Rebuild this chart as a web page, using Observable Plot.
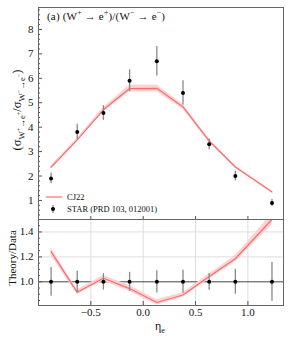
<!DOCTYPE html>
<html>
<head>
<meta charset="utf-8">
<script src="https://cdn.jsdelivr.net/npm/d3@7"></script>
<script src="https://cdn.jsdelivr.net/npm/@observablehq/plot@0.6"></script>
<style>
  html, body { margin: 0; padding: 0; background: white; }
  #wrap { position: relative; width: 291px; height: 339px; font-family: 'Liberation Serif', 'DejaVu Serif', serif; color: #111; }
  #wrap > svg { display: block; }
  #wrap svg text { font-family: 'Liberation Serif', 'DejaVu Serif', serif; }
  .lbl { position: absolute; white-space: nowrap; line-height: 1; }
  .rot { transform: translate(-50%, -50%) rotate(-90deg); }
  sub, sup { font-size: 70%; line-height: 0; }
</style>
</head>
<body>
<div id="wrap"></div>
<script>
// ---- data ----
const eta      = [-0.88, -0.63, -0.38, -0.13, 0.13, 0.38, 0.63, 0.88, 1.23];
const starVal  = [1.9, 3.8, 4.58, 5.9, 6.7, 5.4, 3.3, 2.0, 0.9];
const starErr  = [0.22, 0.32, 0.30, 0.45, 0.60, 0.50, 0.22, 0.20, 0.14];
const cj22Val  = [2.36, 3.48, 4.71, 5.58, 5.59, 4.83, 3.44, 2.37, 1.35];
const cj22Err  = [0.06, 0.07, 0.10, 0.14, 0.14, 0.10, 0.07, 0.05, 0.04];
const xTicks   = [-0.5, 0, 0.5, 1.0];
const yTicksTop = [1, 2, 3, 4, 5, 6, 7, 8];
const yTicksBot = [1.0, 1.2, 1.4];

const star = eta.map((x, i) => ({x, v: starVal[i], e: starErr[i], r: 1, re: starErr[i] / starVal[i]}));
const cj22 = eta.map((x, i) => ({x, v: cj22Val[i], e: cj22Err[i], r: cj22Val[i] / starVal[i], re: cj22Err[i] / starVal[i]}));

const W = 291, ML = 38, MR = 8;
const plotW = W - ML - MR;
const font = {fontFamily: "'Liberation Serif', 'DejaVu Serif', serif", fontSize: "11px", background: "white", color: "#111", overflow: "visible"};
const lineColor = "#ff6b6b", bandColor = "#fcd3d3", frameColor = "#666";

// top panel
const H1 = 219, MT1 = 7, MB1 = 0, plotH1 = H1 - MT1 - MB1;
const minorTop = d3.range(0.4, 8.9, 0.2).filter(v => Math.abs(v - Math.round(v)) > 1e-6);
const topPanel = Plot.plot({
  width: W, height: H1, marginLeft: ML, marginRight: MR, marginTop: MT1, marginBottom: MB1,
  x: {domain: [-1.0, 1.34], axis: null},
  y: {domain: [0.22, 8.9], ticks: yTicksTop, tickSize: 0, tickPadding: 5, label: null, tickFormat: d => String(d)},
  style: font,
  marks: [
    Plot.areaY(cj22, {x: "x", y1: d => d.v - d.e, y2: d => d.v + d.e, fill: bandColor}),
    Plot.lineY(cj22, {x: "x", y: "v", stroke: lineColor, strokeWidth: 1.2}),
    Plot.ruleX(star, {x: "x", y1: d => d.v - d.e, y2: d => d.v + d.e, stroke: "#888", strokeWidth: 1.3}),
    Plot.dot(star, {x: "x", y: "v", r: 2, fill: "#000"}),
    Plot.tickY(yTicksTop, {y: d => d, insetRight: plotW - 4, stroke: "#555"}),
    Plot.tickY(minorTop, {y: d => d, insetRight: plotW - 2, stroke: "#555"}),
    Plot.tickX(xTicks, {x: d => d, insetTop: plotH1 - 3, stroke: "#555"}),
    Plot.frame({stroke: frameColor})
  ]
});

// bottom panel
const H2 = 120, MT2 = 0, MB2 = 34, plotH2 = H2 - MT2 - MB2;
const minorBot = d3.range(0.85, 1.5, 0.05).filter(v => Math.abs(v * 5 - Math.round(v * 5)) > 1e-6);
const botPanel = Plot.plot({
  width: W, height: H2, marginLeft: ML, marginRight: MR, marginTop: MT2, marginBottom: MB2,
  x: {domain: [-1.0, 1.34], ticks: xTicks, tickSize: 0, tickPadding: 3, label: null, tickFormat: d3.format(".1f")},
  y: {domain: [0.81, 1.5], ticks: yTicksBot, tickSize: 0, tickPadding: 5, label: null, tickFormat: d3.format(".1f")},
  style: font,
  marks: [
    Plot.ruleX(xTicks, {x: d => d, stroke: "#ddd"}),
    Plot.ruleY([1.2, 1.4], {y: d => d, stroke: "#ddd"}),
    Plot.ruleY([1.0], {y: d => d, stroke: "#444", strokeWidth: 1}),
    Plot.areaY(cj22, {x: "x", y1: d => d.r - d.re, y2: d => d.r + d.re, fill: bandColor, clip: true}),
    Plot.lineY(cj22, {x: "x", y: "r", stroke: lineColor, strokeWidth: 1.2, clip: true}),
    Plot.ruleX(star, {x: "x", y1: d => d.r - d.re, y2: d => d.r + d.re, stroke: "#888", strokeWidth: 1.3}),
    Plot.dot(star, {x: "x", y: "r", r: 2, fill: "#000"}),
    Plot.tickY(yTicksBot, {y: d => d, insetRight: plotW - 4, stroke: "#555"}),
    Plot.tickY(minorBot, {y: d => d, insetRight: plotW - 2, stroke: "#555"}),
    Plot.tickX(xTicks, {x: d => d, insetTop: plotH2 - 4, stroke: "#555"}),
    Plot.frame({stroke: frameColor})
  ]
});

const wrap = document.getElementById("wrap");
wrap.appendChild(topPanel);
wrap.appendChild(botPanel);

function addLabel(html, css, cls = "lbl") {
  const d = document.createElement("div");
  d.className = cls;
  d.innerHTML = html;
  Object.assign(d.style, css);
  wrap.appendChild(d);
  return d;
}
// title
addLabel("(a) (W<sup>+</sup> → e<sup>+</sup>)/(W<sup>−</sup> → e<sup>−</sup>)", {left: "47px", top: "11px", fontSize: "11px", letterSpacing: "0.2px"});
// y labels
addLabel("(σ<sub>W<sup>+</sup>→e<sup>+</sup></sub>/σ<sub>W<sup>−</sup>→e<sup>−</sup></sub>)", {left: "17px", top: "110px", fontSize: "12.5px"}, "lbl rot");
addLabel("Theory/Data", {left: "12px", top: "258px", fontSize: "11px"}, "lbl rot");
// x label
addLabel("η<sub>e</sub>", {left: "155px", top: "320px", fontSize: "12px"});
// legend
const leg = document.createElementNS("http://www.w3.org/2000/svg", "svg");
leg.setAttribute("width", "20"); leg.setAttribute("height", "26");
leg.style.position = "absolute"; leg.style.left = "44px"; leg.style.top = "190px";
leg.innerHTML = `<line x1="2" x2="18" y1="7" y2="7" stroke="${lineColor}" stroke-width="1.2"/>
<line x1="9" x2="9" y1="15" y2="23" stroke="#888" stroke-width="1.3"/>
<circle cx="9" cy="19" r="2" fill="#000"/>`;
wrap.appendChild(leg);
addLabel("CJ22", {left: "67px", top: "193px", fontSize: "8.5px"});
addLabel("STAR (PRD 103, 012001)", {left: "67px", top: "205px", fontSize: "8.5px"});
</script>
</body>
</html>
